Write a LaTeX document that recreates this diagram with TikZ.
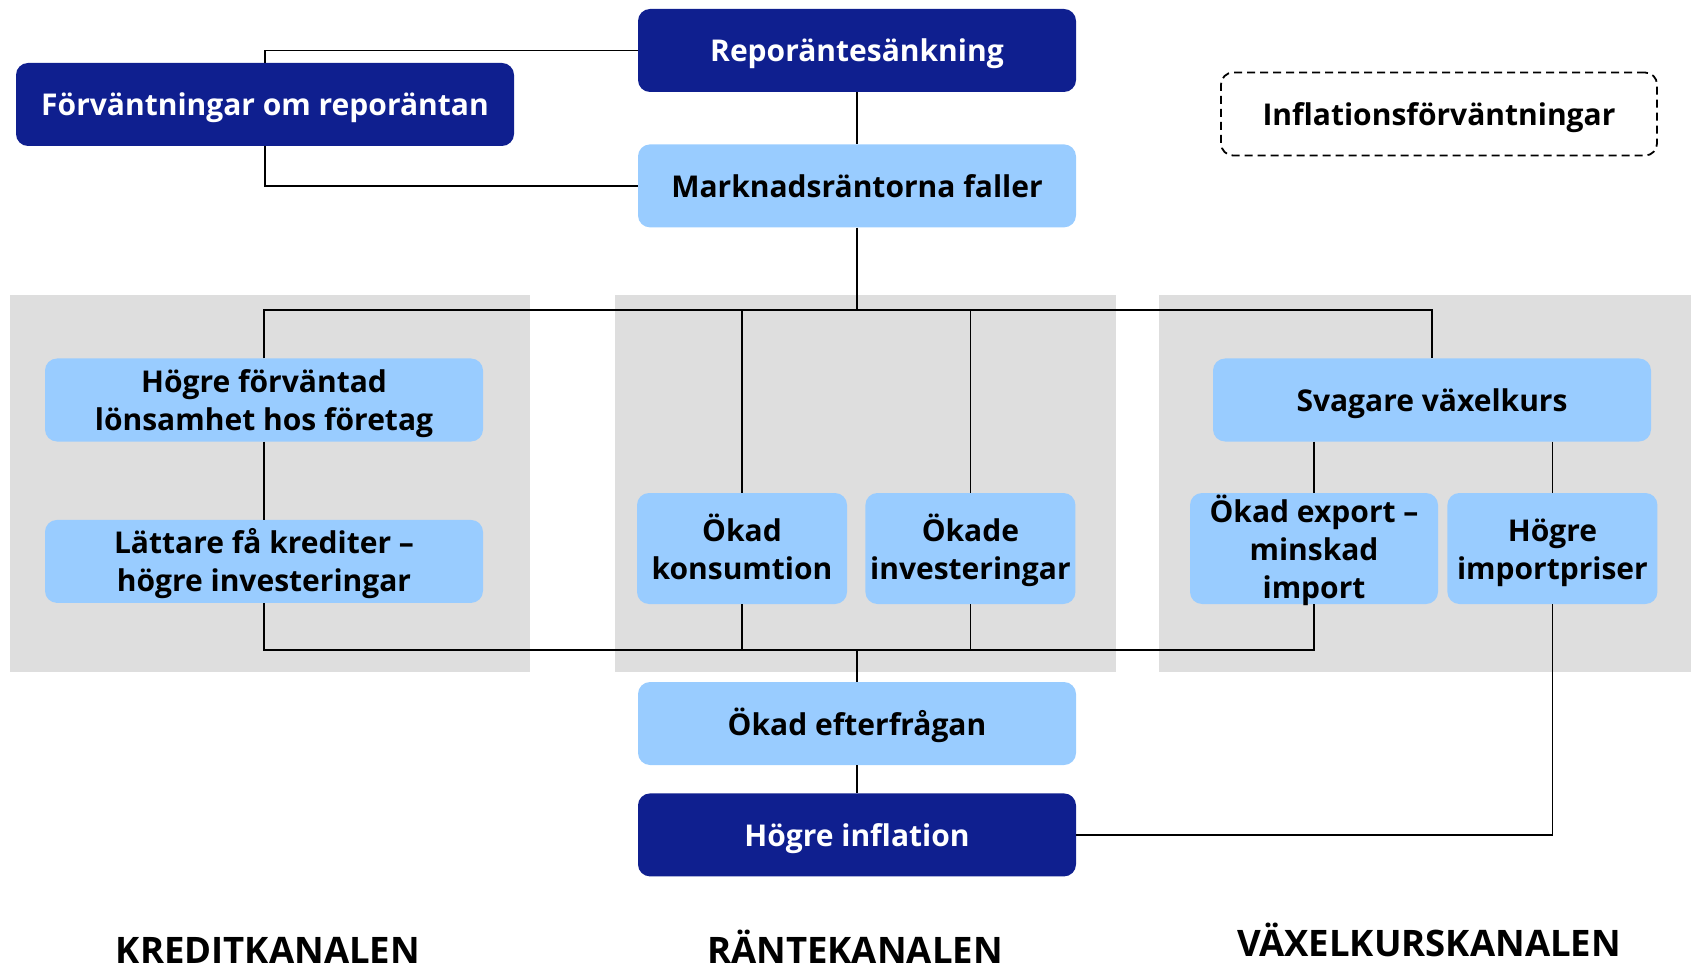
\documentclass[tikz,border=0pt]{standalone}
\usepackage{fontspec}
\setmainfont{Open Sans}
\usepackage{tikz}
\usetikzlibrary{positioning}
\definecolor{riksblue}{RGB}{15,31,143}
\definecolor{ljusblue}{RGB}{153,204,255}
\definecolor{panelgray}{RGB}{222,222,222}
\tikzset{link/.style = {line width=1.8pt}}

\begin{document}
\begin{tikzpicture}[x=1pt, y=-1pt, node distance=20pt,
    box/.style={rounded corners=12pt, align=center, inner sep=2pt,
      font=\bfseries\fontsize{30}{38}\selectfont, minimum width=438pt, minimum height=83pt,
      execute at begin node={\rule{0pt}{32pt}}, execute at end node={\rule[-9pt]{0pt}{9pt}}},
    two lines/.style={execute at begin node={\rule{0pt}{70pt}}},
    three lines/.style={inner ysep=-3pt, execute at begin node={\rule{0pt}{108pt}}},
    dark node/.style={box, fill=riksblue, text=white},
    light node/.style={box, fill=ljusblue, text=black},
    small node/.style={light node, two lines, minimum width=210pt, minimum height=111pt},
    channel/.style={font=\bfseries\fontsize{36.5}{40}\selectfont, anchor=base}]
    \useasboundingbox (0,0) rectangle (1694,965);
    % grey panels for the three channels
    \fill[panelgray] (10,295) rectangle (530,672);
    \fill[panelgray] (615,295) rectangle (1116,672);
    \fill[panelgray] (1159,295) rectangle (1691,672);
            \node[dark node] (repo) at (857,50.5) {Reporäntesänkning};
            \node[dark node, minimum width=498pt] (forv) at (265,104.5) {Förväntningar om reporäntan};
            \node[light node] (mark) [below=52pt of repo] {Marknadsräntorna faller};
            \node[box, draw, dashed, line width=1.8pt, dash pattern=on 8pt off 5pt, minimum width=436pt] (inflf) at (1439,114) {Inflationsförväntningar};
            \node[light node, two lines] (hogf) at (264,400) {Högre förväntad\\lönsamhet hos företag};
            \node[light node, two lines] (latt) [below=78pt of hogf] {Lättare få krediter –\\högre investeringar};
            \node[small node] (kons) at (742,548.5) {Ökad\\konsumtion};
            \node[small node] (inv) [right=18pt of kons] {Ökade\\investeringar};
            \node[light node] (svag) at (1432,400) {Svagare växelkurs};
            \node[small node, three lines, minimum width=248pt] (exp) at (1314,548.5) {Ökad export –\\minskad\\import};
            \node[small node] (imp) [right=9pt of exp] {Högre\\importpriser};
            \node[light node] (eft) at (857,723.5) {Ökad efterfrågan};
            \node[dark node] (hinfl) [below=28pt of eft] {Högre inflation};
            \coordinate (tb) at (857,310);
            \coordinate (bb) at (857,650);
            % connectors
            \draw[link] (repo.west) -| (forv.north);
            \draw[link] (forv.south) |- (mark.west);
            \draw[link] (repo) -- (mark);
            \draw[link] (mark.south) -- (tb);
            \draw[link] (hogf.north) -- (hogf.north |- tb) -| (svag.north);
            \draw[link] (kons.north) -- (kons.north |- tb);
            \draw[link] (inv.north) -- (inv.north |- tb);
            \draw[link] (hogf) -- (latt);
            \draw[link] (svag.south -| exp.north) -- (exp.north);
            \draw[link] (svag.south -| imp.north) -- (imp.north);
            \draw[link] (latt.south) -- (latt.south |- bb) -| (exp.south);
            \draw[link] (kons.south) -- (kons.south |- bb);
            \draw[link] (inv.south) -- (inv.south |- bb);
            \draw[link] (bb) -- (eft);
            \draw[link] (eft) -- (hinfl);
            \draw[link] (imp.south) |- (hinfl.east);
            % channel names
            \node[channel] (kredit) at (268,963) {KREDITKANALEN};
            \node[channel] (ranta) at (855,963) {RÄNTEKANALEN};
            \node[channel] (vaxel) at (1429,956) {VÄXELKURSKANALEN};
        \end{tikzpicture}
\end{document}
